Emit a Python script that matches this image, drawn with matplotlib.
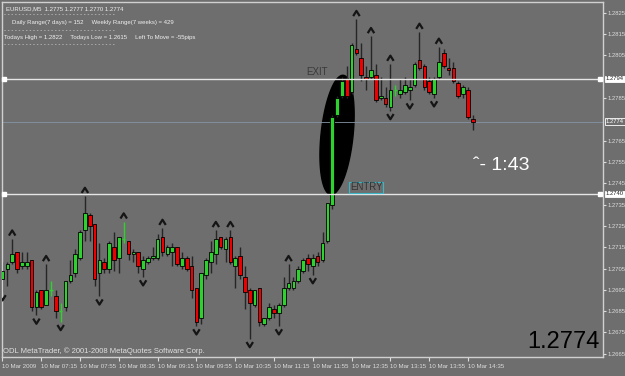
import matplotlib
matplotlib.use("Agg")
import matplotlib.pyplot as plt
import matplotlib.transforms as mtransforms
from matplotlib.path import Path
import numpy as np

# EURUSD M5, 10 Mar 2009, bars from 06:35 to 14:40
opens = [1.2700, 1.2705, 1.2708, 1.2713, 1.2706, 1.2706, 1.2709, 1.2687, 1.2695, 1.2688,
         1.2695, 1.2692, 1.2685, 1.2687, 1.2699, 1.2703, 1.2710, 1.2723, 1.2730, 1.2726,
         1.2703, 1.2708, 1.2705, 1.2715, 1.2710, 1.2719, 1.2718, 1.2712, 1.2713, 1.2705,
         1.2708, 1.2710, 1.2710, 1.2720, 1.2712, 1.2713, 1.2715, 1.2706, 1.2710, 1.2706,
         1.2696, 1.2682, 1.2702, 1.2708, 1.2712, 1.2720, 1.2714, 1.2720, 1.2706, 1.2711,
         1.2701, 1.2695, 1.2688, 1.2696, 1.2679, 1.2682, 1.2686, 1.2684, 1.2688, 1.2696,
         1.2696, 1.2699, 1.2704, 1.2710, 1.2706, 1.2711, 1.2709, 1.2718, 1.2735, 1.2777,
         1.2786, 1.2794, 1.2788, 1.2808, 1.2804, 1.2795, 1.2795, 1.2796, 1.2785, 1.2785,
         1.2781, 1.2789, 1.2787, 1.2788, 1.2789, 1.2791, 1.2803, 1.2800, 1.2793, 1.2787,
         1.2795, 1.2806, 1.2799, 1.2799, 1.2792, 1.2787, 1.2789, 1.2775]
highs = [1.2708, 1.2708, 1.2719, 1.2713, 1.2713, 1.2713, 1.2709, 1.2695, 1.2695, 1.2707,
         1.2699, 1.2695, 1.2689, 1.2699, 1.2709, 1.2714, 1.2723, 1.2739, 1.2731, 1.2726,
         1.2717, 1.2710, 1.2718, 1.2722, 1.2720, 1.2727, 1.2718, 1.2714, 1.2713, 1.2711,
         1.2711, 1.2715, 1.2721, 1.2724, 1.2716, 1.2717, 1.2715, 1.2713, 1.2711, 1.2711,
         1.2696, 1.2703, 1.2710, 1.2718, 1.2723, 1.2720, 1.2720, 1.2723, 1.2711, 1.2715,
         1.2706, 1.2696, 1.2695, 1.2696, 1.2682, 1.2689, 1.2688, 1.2689, 1.2701, 1.2707,
         1.2701, 1.2706, 1.2710, 1.2712, 1.2712, 1.2713, 1.2722, 1.2736, 1.2777, 1.2786,
         1.2795, 1.2800, 1.2811, 1.2822, 1.2811, 1.2800, 1.2814, 1.2801, 1.2795, 1.2790,
         1.2801, 1.2791, 1.2794, 1.2795, 1.2794, 1.2802, 1.2816, 1.2801, 1.2795, 1.2795,
         1.2809, 1.2808, 1.2804, 1.2802, 1.2793, 1.2791, 1.2790, 1.2777]
lows = [1.2694, 1.2697, 1.2707, 1.2703, 1.2705, 1.2705, 1.2685, 1.2683, 1.2686, 1.2688,
        1.2692, 1.2682, 1.2680, 1.2685, 1.2698, 1.2701, 1.2709, 1.2718, 1.2718, 1.2697,
        1.2692, 1.2703, 1.2703, 1.2704, 1.2703, 1.2717, 1.2709, 1.2708, 1.2703, 1.2701,
        1.2707, 1.2709, 1.2709, 1.2711, 1.2711, 1.2706, 1.2706, 1.2705, 1.2704, 1.2691,
        1.2678, 1.2679, 1.2700, 1.2703, 1.2707, 1.2714, 1.2708, 1.2707, 1.2696, 1.2700,
        1.2686, 1.2672, 1.2687, 1.2678, 1.2678, 1.2681, 1.2682, 1.2678, 1.2687, 1.2695,
        1.2695, 1.2698, 1.2703, 1.2704, 1.2702, 1.2706, 1.2708, 1.2717, 1.2733, 1.2776,
        1.2785, 1.2785, 1.2787, 1.2805, 1.2793, 1.2789, 1.2794, 1.2783, 1.2784, 1.2781,
        1.2779, 1.2786, 1.2785, 1.2787, 1.2784, 1.2790, 1.2798, 1.2789, 1.2787, 1.2785,
        1.2794, 1.2799, 1.2796, 1.2792, 1.2785, 1.2785, 1.2775, 1.2770]
closes = [1.2704, 1.2707, 1.2712, 1.2705, 1.2708, 1.2708, 1.2687, 1.2694, 1.2687, 1.2695,
          1.2695, 1.2685, 1.2685, 1.2699, 1.2702, 1.2712, 1.2722, 1.2731, 1.2725, 1.2700,
          1.2709, 1.2705, 1.2717, 1.2709, 1.2720, 1.2719, 1.2712, 1.2713, 1.2706, 1.2709,
          1.2710, 1.2711, 1.2719, 1.2713, 1.2715, 1.2715, 1.2707, 1.2710, 1.2705, 1.2695,
          1.2680, 1.2703, 1.2709, 1.2713, 1.2719, 1.2715, 1.2719, 1.2708, 1.2710, 1.2702,
          1.2694, 1.2689, 1.2695, 1.2680, 1.2682, 1.2687, 1.2684, 1.2688, 1.2696, 1.2698,
          1.2699, 1.2705, 1.2709, 1.2707, 1.2710, 1.2708, 1.2717, 1.2736, 1.2776, 1.2785,
          1.2793, 1.2786, 1.2810, 1.2806, 1.2796, 1.2794, 1.2798, 1.2784, 1.2786, 1.2782,
          1.2789, 1.2789, 1.2789, 1.2791, 1.2790, 1.2801, 1.2799, 1.2790, 1.2788, 1.2794,
          1.2802, 1.2800, 1.2798, 1.2793, 1.2786, 1.2790, 1.2776, 1.2774]

# fractal arrows (bar indexes)
up_fractals = [2, 9, 17, 25, 33, 44, 47, 59, 73, 76, 80, 86, 90]
down_fractals = [0, 7, 12, 20, 29, 40, 51, 57, 64, 80, 84, 89]

time_labels = ["10 Mar 2009", "10 Mar 07:15", "10 Mar 07:55", "10 Mar 08:35", "10 Mar 09:15",
               "10 Mar 09:55", "10 Mar 10:35", "10 Mar 11:15", "10 Mar 11:55", "10 Mar 12:35",
               "10 Mar 13:15", "10 Mar 13:55", "10 Mar 14:35"]
price_ticks = [1.2825, 1.2815, 1.2805, 1.2785, 1.2765, 1.2755, 1.2745, 1.2735, 1.2725,
               1.2715, 1.2705, 1.2695, 1.2685, 1.2675, 1.2665]

exit_price = 1.2794
entry_price = 1.2740
bid_price = 1.2774

bg = "#6e6e6e"
green = "#2ed22e"
red = "#ee0000"
sans = "Liberation Sans"

fig = plt.figure(figsize=(6.25, 3.76), dpi=100)
fig.patch.set_facecolor(bg)
ax = fig.add_axes([2 / 625, 19 / 376, 601 / 625, 355 / 376])
ax.set_facecolor(bg)
ax.set_xlim(-0.1, 123.85)
ax.set_ylim(1.26635, 1.28301)

# ellipse around the breakout bar (drawn in pixel units, tilted)
bbox = ax.get_window_extent()
px_x = bbox.width / (123.85 + 0.1)
px_y = bbox.height / (1.28301 - 1.26635)
t = np.linspace(0, 2 * np.pi, 200)
a, b, th = 16, 60, np.radians(6)
u, v = a * np.cos(t), b * np.sin(t)
dx = u * np.cos(th) + v * np.sin(th)
dy = -u * np.sin(th) + v * np.cos(th)
ax.fill(69.0 + dx / px_x, 1.27677 + dy / px_y, color="black", zorder=1)

# candles
n = len(opens)
for i in range(n):
    o, h, l, c = opens[i], highs[i], lows[i], closes[i]
    if o == c:
        ax.vlines(i, l, h, color=green, lw=1, zorder=3)
        ax.hlines(c, i - 0.35, i + 0.35, color=green, lw=1, zorder=3)
        continue
    ax.vlines(i, l, h, color="#262626", lw=1, zorder=2)
    col = green if c > o else red
    ax.bar(i, abs(c - o), bottom=min(o, c), width=0.75, color=col,
           edgecolor="black", linewidth=0.6, zorder=3)

# fractals, drawn as open chevrons
chev_up = Path([(-1, -0.8), (0, 0.8), (1, -0.8)], [Path.MOVETO, Path.LINETO, Path.LINETO])
chev_dn = Path([(-1, 0.8), (0, -0.8), (1, 0.8)], [Path.MOVETO, Path.LINETO, Path.LINETO])
ax.scatter(up_fractals, [highs[i] + 0.00027 for i in up_fractals], marker=chev_up, s=22,
           facecolors="none", edgecolors="#151515", linewidths=1.6, zorder=4)
ax.scatter(down_fractals, [lows[i] - 0.00027 for i in down_fractals], marker=chev_dn, s=22,
           facecolors="none", edgecolors="#151515", linewidths=1.6, zorder=4)

# horizontal lines
ax.axhline(exit_price, color="#e6e6e6", lw=1, zorder=5)
ax.axhline(entry_price, color="#e6e6e6", lw=1, zorder=5)
ax.axhline(bid_price, color="#8494a6", lw=0.6, zorder=1.5)
trans = mtransforms.blended_transform_factory(ax.transAxes, ax.transData)
for p in (exit_price, entry_price):
    ax.plot([0.003, 0.995], [p, p], "s", color="white", ms=3, transform=trans,
            zorder=6, clip_on=False)

ax.text(64.9, exit_price + 0.0001, "EXIT", color="#3a3a3a", fontsize=7, family=sans,
        ha="center", va="bottom", zorder=6)
ax.text(71.7, entry_price + 0.00008, "ENTRY", color="#333333", fontsize=7, family=sans,
        ha="left", va="bottom", zorder=6,
        bbox=dict(facecolor="none", edgecolor="#3bb7c8", pad=0.5, lw=0.8))

# axes style
for s in ax.spines.values():
    s.set_color("#d0d0d0")
    s.set_linewidth(1)
ax.yaxis.tick_right()
ax.set_yticks(price_ticks)
ax.set_yticklabels([f"{p:.4f}" for p in price_ticks])
ax.tick_params(axis="y", colors="#dcdcdc", labelsize=4.2, length=2.5, pad=1)
for lbl in ax.get_yticklabels():
    lbl.set_family(sans)
ax.set_xticks(np.arange(len(time_labels)) * 8)
ax.set_xticklabels(time_labels)
ax.tick_params(axis="x", colors="#dcdcdc", labelsize=4.4, length=3, pad=2)
for lbl in ax.get_xticklabels():
    lbl.set_horizontalalignment("left")
    lbl.set_family(sans)

# price boxes on right axis
for p, fc, tc in ((exit_price, "white", "#222222"), (entry_price, "white", "#222222"),
                  (bid_price, bg, "white")):
    ax.text(1.0045, p, f"{p:.4f}", transform=trans, fontsize=4.2, color=tc, va="center",
            ha="left", family=sans, zorder=7, clip_on=False,
            bbox=dict(facecolor=fc, edgecolor="white", pad=0.6, lw=0.6))

# info text top left
dash = "- - - - - - - - - - - - - - - - - - - - - - - - - - - - - - -"
info = [("EURUSD,M5  1.2775 1.2777 1.2770 1.2774", 0.006, 0.988),
        (dash, 0.003, 0.972),
        ("Daily Range(7 days) = 152     Weekly Range(7 weeks) = 429", 0.016, 0.948),
        (dash, 0.003, 0.926),
        ("Todays High = 1.2822     Todays Low = 1.2615     Left To Move = -55pips", 0.003, 0.906),
        (dash, 0.003, 0.886)]
for s, x, y in info:
    ax.text(x, y, s, transform=ax.transAxes, fontsize=4.3, color="#f0f0f0",
            family=sans, va="top", ha="left", zorder=8)

ax.text(0.784, 0.539, "\u02c6- 1:43", transform=ax.transAxes, fontsize=14, color="white",
        family=sans, va="center", ha="left", zorder=8)
ax.text(0.995, 0.01, "1.2774", transform=ax.transAxes, fontsize=17, color="black",
        family=sans, va="bottom", ha="right", zorder=8)
ax.text(0.002, 0.006, "ODL MetaTrader, \u00a9 2001-2008 MetaQuotes Software Corp.",
        transform=ax.transAxes, fontsize=5.5, color="#e0e0e0", family=sans,
        va="bottom", ha="left", zorder=8)

fig.savefig("out.png", dpi=100, facecolor=bg)
